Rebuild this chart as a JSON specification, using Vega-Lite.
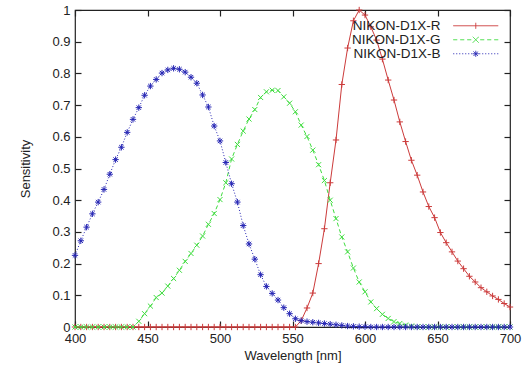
{
"$schema": "https://vega.github.io/schema/vega-lite/v6.json",
"width": 435, "height": 317, "autosize": "none",
"padding": {"left": 75, "top": 10, "right": 13, "bottom": 47},
"config": {
  "view": {"stroke": "#222", "strokeWidth": 1.2},
  "font": "Liberation Sans",
  "axis": {"labelFont": "Liberation Sans", "labelFontSize": 13, "labelColor": "#222", "labelFlush": false, "titleFont": "Liberation Sans", "titleFontSize": 13, "titleFontWeight": "normal", "titleColor": "#222", "grid": false, "domain": false, "tickColor": "#222", "tickSize": -6, "tickWidth": 1.2}
},
"data": {"values": [
{"wl":400,"R":0,"G":0,"B":0.226},{"wl":404,"R":0,"G":0,"B":0.272},{"wl":408,"R":0,"G":0,"B":0.315},{"wl":412,"R":0,"G":0,"B":0.357},
{"wl":416,"R":0,"G":0,"B":0.394},{"wl":420,"R":0,"G":0,"B":0.434},{"wl":424,"R":0,"G":0,"B":0.482},{"wl":428,"R":0,"G":0,"B":0.528},
{"wl":432,"R":0,"G":0,"B":0.567},{"wl":436,"R":0,"G":0,"B":0.614},{"wl":440,"R":0,"G":0,"B":0.655},{"wl":444,"R":0,"G":0.018,"B":0.692},
{"wl":448,"R":0,"G":0.042,"B":0.731},{"wl":452,"R":0,"G":0.066,"B":0.760},{"wl":456,"R":0,"G":0.093,"B":0.781},{"wl":460,"R":0,"G":0.107,"B":0.801},
{"wl":464,"R":0,"G":0.129,"B":0.811},{"wl":468,"R":0,"G":0.153,"B":0.816},{"wl":472,"R":0,"G":0.179,"B":0.813},{"wl":476,"R":0,"G":0.207,"B":0.804},
{"wl":480,"R":0,"G":0.232,"B":0.788},{"wl":484,"R":0,"G":0.258,"B":0.769},{"wl":488,"R":0,"G":0.287,"B":0.732},{"wl":492,"R":0,"G":0.324,"B":0.694},
{"wl":496,"R":0,"G":0.358,"B":0.634},{"wl":500,"R":0,"G":0.402,"B":0.587},{"wl":504,"R":0,"G":0.455,"B":0.519},{"wl":508,"R":0,"G":0.530,"B":0.452},
{"wl":512,"R":0,"G":0.576,"B":0.394},{"wl":516,"R":0,"G":0.618,"B":0.320},{"wl":520,"R":0,"G":0.656,"B":0.262},{"wl":524,"R":0,"G":0.686,"B":0.214},
{"wl":528,"R":0,"G":0.724,"B":0.165},{"wl":532,"R":0,"G":0.742,"B":0.128},{"wl":536,"R":0,"G":0.747,"B":0.106},{"wl":540,"R":0,"G":0.746,"B":0.085},
{"wl":544,"R":0,"G":0.726,"B":0.061},{"wl":548,"R":0,"G":0.706,"B":0.042},{"wl":552,"R":0,"G":0.679,"B":0.026},{"wl":556,"R":0.02,"G":0.637,"B":0.020},
{"wl":560,"R":0.06,"G":0.601,"B":0.017},{"wl":564,"R":0.107,"G":0.558,"B":0.015},{"wl":568,"R":0.2,"G":0.512,"B":0.013},{"wl":572,"R":0.31,"G":0.462,"B":0.011},
{"wl":576,"R":0.455,"G":0.400,"B":0.009},{"wl":580,"R":0.59,"G":0.342,"B":0.007},{"wl":584,"R":0.765,"G":0.284,"B":0.005},{"wl":588,"R":0.88,"G":0.237,"B":0.003},
{"wl":592,"R":0.966,"G":0.186,"B":0.002},{"wl":596,"R":1.0,"G":0.142,"B":0.001},{"wl":600,"R":0.984,"G":0.111,"B":0.001},{"wl":604,"R":0.947,"G":0.079,"B":0},
{"wl":608,"R":0.905,"G":0.058,"B":0},{"wl":612,"R":0.845,"G":0.040,"B":0},{"wl":616,"R":0.779,"G":0.027,"B":0},{"wl":620,"R":0.716,"G":0.017,"B":0},
{"wl":624,"R":0.647,"G":0.011,"B":0},{"wl":628,"R":0.585,"G":0.006,"B":0},{"wl":632,"R":0.526,"G":0.003,"B":0},{"wl":636,"R":0.479,"G":0,"B":0},
{"wl":640,"R":0.426,"G":0,"B":0},{"wl":644,"R":0.38,"G":0,"B":0},{"wl":648,"R":0.345,"G":0,"B":0},{"wl":652,"R":0.298,"G":0,"B":0},
{"wl":656,"R":0.266,"G":0,"B":0},{"wl":660,"R":0.237,"G":0,"B":0},{"wl":664,"R":0.208,"G":0,"B":0},{"wl":668,"R":0.184,"G":0,"B":0},
{"wl":672,"R":0.16,"G":0,"B":0},{"wl":676,"R":0.142,"G":0,"B":0},{"wl":680,"R":0.124,"G":0,"B":0},{"wl":684,"R":0.111,"G":0,"B":0},
{"wl":688,"R":0.098,"G":0,"B":0},{"wl":692,"R":0.087,"G":0,"B":0},{"wl":696,"R":0.074,"G":0,"B":0},{"wl":700,"R":0.063,"G":0,"B":0}
]},
"transform": [{"fold": ["R", "G", "B"], "as": ["key", "s"]}],
"encoding": {
  "x": {"field": "wl", "type": "quantitative", "scale": {"domain": [400, 700], "nice": false, "zero": false, "padding": 0}, "axis": null},
  "y": {"field": "s", "type": "quantitative", "scale": {"domain": [0, 1], "nice": false, "zero": false, "padding": 0}, "axis": null},
  "color": {"field": "key", "type": "nominal", "scale": {"domain": ["R", "G", "B"], "range": ["#cc3b3b", "#3edc3e", "#2626b4"]},
    "legend": {"orient": "top-right", "offset": 9, "title": null, "padding": 0,
      "labelExpr": "'NIKON-D1X-' + datum.label", "labelFont": "Liberation Sans", "labelFontSize": 13.5, "labelColor": "#222",
      "labelAlign": "right", "labelOffset": -38, "symbolSize": 100, "symbolStrokeWidth": 1, "rowPadding": -1,
      "encode": {"symbols": {"update": {
        "fill": {"value": "transparent"},
        "strokeDash": {"value": [1, 0]},
        "shape": {"signal": "datum.value === 'R' ? 'M-3.7,0L5.3,0M0.8,-0.6L0.8,0.6' : datum.value === 'G' ? 'M-3.7,0L-2.9,0M-2.3,0L-1.5,0M-0.9,0L-0.1,0M1.7,0L2.5,0M3.1,0L3.9,0M4.5,0L5.3,0M0.2,-0.6L1.4,0.6M0.2,0.6L1.4,-0.6' : 'M-3.7,0L-3.5,0M-3.1,0L-2.9,0M-2.5,0L-2.3,0M-1.9,0L-1.7,0M-1.3,0L-1.1,0M-0.7,0L-0.5,0M-0.1,0L0.1,0M1.5,0L1.7,0M2.1,0L2.3,0M2.7,0L2.9,0M3.3,0L3.5,0M3.9,0L4.1,0M4.5,0L4.7,0M5.1,0L5.3,0M0.2,0L1.4,0M0.8,-0.6L0.8,0.6M0.35,-0.45L1.25,0.45M0.35,0.45L1.25,-0.45'"}
      }}}
    }
  }
},
"layer": [
  {"mark": {"type": "line", "strokeWidth": 1},
   "transform": [{"filter": "datum.key === 'R'"}],
   "encoding": {
     "x": {"field": "wl", "type": "quantitative", "scale": {"domain": [400, 700], "nice": false, "zero": false, "padding": 0},
           "axis": {"orient": "bottom", "values": [400, 450, 500, 550, 600, 650, 700], "title": "Wavelength [nm]", "labelPadding": 11, "labelDx": 2, "titlePadding": 4}},
     "y": {"field": "s", "type": "quantitative", "scale": {"domain": [0, 1], "nice": false, "zero": false, "padding": 0},
           "axis": {"orient": "left", "values": [0, 0.1, 0.2, 0.3, 0.4, 0.5, 0.6, 0.7, 0.8, 0.9, 1], "format": "~g", "title": "Sensitivity", "labelPadding": 11, "titlePadding": 19}}
   }},
  {"mark": {"type": "point", "filled": false, "strokeWidth": 1, "opacity": 1, "size": 40, "shape": "M-1,0L1,0M0,-1L0,1"},
   "transform": [{"filter": "datum.key === 'R'"}],
   "encoding": {
     "x": {"field": "wl", "type": "quantitative", "scale": {"domain": [400, 700], "nice": false, "zero": false, "padding": 0},
           "axis": {"orient": "top", "values": [400, 450, 500, 550, 600, 650, 700], "labels": false, "title": null}},
     "y": {"field": "s", "type": "quantitative", "scale": {"domain": [0, 1], "nice": false, "zero": false, "padding": 0},
           "axis": {"orient": "right", "values": [0, 0.1, 0.2, 0.3, 0.4, 0.5, 0.6, 0.7, 0.8, 0.9, 1], "labels": false, "title": null}}
   }},
  {"mark": {"type": "line", "strokeWidth": 1, "strokeDash": [4, 3]},
   "transform": [{"filter": "datum.key === 'G'"}]},
  {"mark": {"type": "point", "filled": false, "strokeWidth": 1, "opacity": 1, "size": 40, "shape": "M-0.8,-0.8L0.8,0.8M-0.8,0.8L0.8,-0.8"},
   "transform": [{"filter": "datum.key === 'G'"}]},
  {"mark": {"type": "line", "strokeWidth": 1, "strokeDash": [1, 2]},
   "transform": [{"filter": "datum.key === 'B'"}]},
  {"mark": {"type": "point", "filled": false, "strokeWidth": 1, "opacity": 1, "size": 40, "shape": "M-1,0L1,0M0,-1L0,1M-0.7,-0.7L0.7,0.7M-0.7,0.7L0.7,-0.7"},
   "transform": [{"filter": "datum.key === 'B'"}]}
],
"resolve": {"axis": {"x": "independent", "y": "independent"}}
}
